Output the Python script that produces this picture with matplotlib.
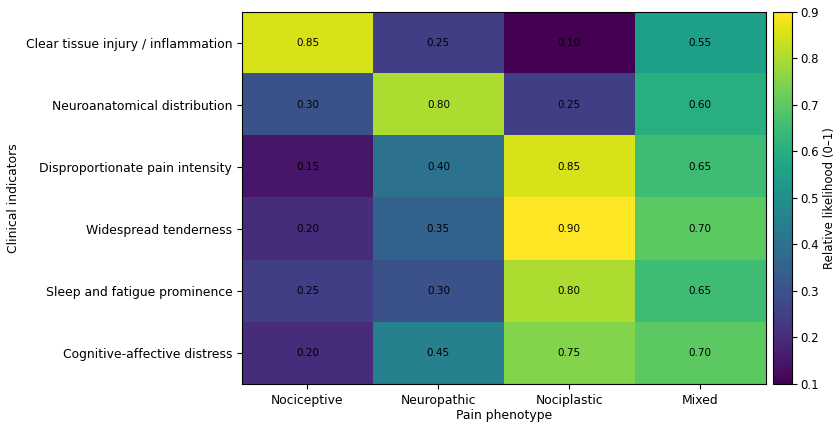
import numpy as np
import matplotlib.pyplot as plt

indicators = ['Clear tissue injury / inflammation', 'Neuroanatomical distribution',
              'Disproportionate pain intensity', 'Widespread tenderness',
              'Sleep and fatigue prominence', 'Cognitive-affective distress']
phenotypes = ['Nociceptive', 'Neuropathic', 'Nociplastic', 'Mixed']
values = np.array([
    [0.85, 0.25, 0.10, 0.55],
    [0.30, 0.80, 0.25, 0.60],
    [0.15, 0.40, 0.85, 0.65],
    [0.20, 0.35, 0.90, 0.70],
    [0.25, 0.30, 0.80, 0.65],
    [0.20, 0.45, 0.75, 0.70],
])

plt.rcParams['font.size'] = 8.9

fig = plt.figure(figsize=(8.36, 4.25), dpi=100)
ax = fig.add_axes([0.2895, 0.0965, 0.6265, 0.8755])
cax = fig.add_axes([0.9245, 0.0965, 0.0228, 0.8755])

im = ax.imshow(values, cmap='viridis', vmin=0.1, vmax=0.9, aspect='auto')
ax.set_xticks(range(len(phenotypes)))
ax.set_xticklabels(phenotypes)
ax.set_yticks(range(len(indicators)))
ax.set_yticklabels(indicators)
ax.set_xlabel('Pain phenotype', labelpad=2)
ax.set_ylabel('Clinical indicators')

for i in range(values.shape[0]):
    for j in range(values.shape[1]):
        ax.text(j, i, f'{values[i, j]:.2f}', ha='center', va='center', fontsize=7.5, color='black')

cb = fig.colorbar(im, cax=cax)
cb.ax.tick_params(labelsize=8.5, pad=2.5)
cb.set_label('Relative likelihood (0–1)', labelpad=3, fontsize=8.5)

fig.savefig('out.png', dpi=100)
